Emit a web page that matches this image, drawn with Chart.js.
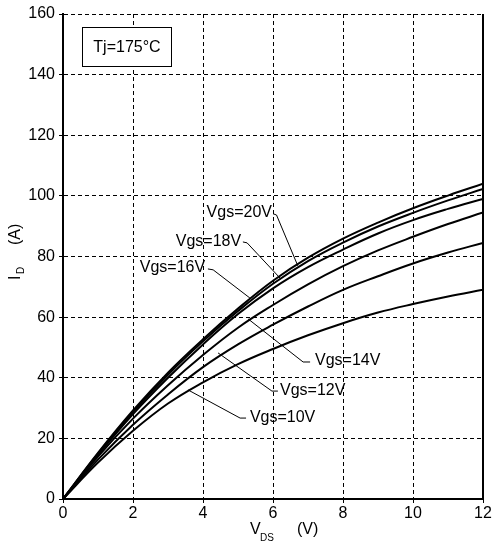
<!DOCTYPE html>
<html lang="en">
<head>
  <meta charset="UTF-8">
  <title>ID vs VDS at Tj=175°C</title>
  <style>
    * { margin:0; padding:0; }
    body { background:#fff; }
    canvas { display:block; }
  </style>
  <script src="https://cdn.jsdelivr.net/npm/chart.js"></script>
</head>
<body>
  <canvas id="ivChart" width="497" height="544"></canvas>

  <script>
    // V_DS (V)
    const vds = [0, 1, 2, 3, 4, 5, 6, 7, 8, 9, 10, 11, 12];
    // I_D (A) for each gate voltage
    const id20 = [0, 15.2, 29.2, 41.7, 52.7, 62.8, 72, 79.6, 85.9, 91.2, 95.9, 100.1, 104];
    const id18 = [0, 15, 28.7, 41, 52, 62, 71, 78.5, 84.6, 89.9, 94.4, 98.5, 102.3];
    const id16 = [0, 14.5, 28, 40, 51, 61, 69.5, 76.5, 82.3, 87.6, 92, 95.7, 99];
    const id14 = [0, 14, 26.5, 37.5, 47.5, 56.5, 64, 70.8, 76.8, 82, 86.5, 90.7, 94.5];
    const id12 = [0, 13, 24.5, 34.5, 43.5, 51, 57.5, 63.5, 69, 73.5, 77.7, 81.3, 84.5];
    const id10 = [0, 12, 22.5, 31.5, 38.5, 44.5, 49.5, 54, 58, 61.5, 64.3, 66.8, 69];
    const series = [id20, id18, id16, id14, id12, id10];
    const seriesNames = ['Vgs=20V', 'Vgs=18V', 'Vgs=16V', 'Vgs=14V', 'Vgs=12V', 'Vgs=10V'];

    const FONT = "'Liberation Sans', Arial, sans-serif";
    Chart.defaults.font.family = FONT;
    Chart.defaults.font.size = 16;
    Chart.defaults.color = '#000';

    // callouts: text anchor + leader line, in data units
    const callouts = [
      { text: 'Vgs=20V', at: [5.97, 94.4], align: 'right', leader: [[6.0, 94.1], [6.1, 93.7], [6.71, 76.9]] },
      { text: 'Vgs=18V', at: [5.09, 84.8], align: 'right', leader: [[5.14, 84.8], [5.26, 84.5], [6.2, 72.9]] },
      { text: 'Vgs=16V', at: [4.06, 76.2], align: 'right', leader: [[4.14, 75.9], [4.29, 75.6], [5.34, 66.3]] },
      { text: 'Vgs=14V', at: [7.2, 45.5], align: 'left', leader: [[7.06, 45.2], [6.86, 45.2], [5.29, 59.4]] },
      { text: 'Vgs=12V', at: [6.2, 35.6], align: 'left', leader: [[6.14, 35.6], [5.97, 35.6], [4.43, 48.2]] },
      { text: 'Vgs=10V', at: [5.34, 27], align: 'left', leader: [[5.23, 26.7], [5.06, 26.7], [3.57, 36.0]] }
    ];

    const annot = {
      id: 'annot',
      afterDraw(chart) {
        const { ctx, scales: { x, y }, chartArea: a } = chart;
        const px = v => x.getPixelForValue(v);
        const py = v => y.getPixelForValue(v);
        ctx.save();
        ctx.setLineDash([]);
        ctx.strokeStyle = '#000';
        ctx.fillStyle = '#000';

        // solid right frame
        ctx.lineWidth = 2;
        ctx.beginPath();
        ctx.moveTo(a.right, a.top);
        ctx.lineTo(a.right, a.bottom + 1);
        ctx.stroke();

        // callouts
        ctx.lineWidth = 1;
        ctx.font = '16px ' + FONT;
        ctx.textBaseline = 'middle';
        callouts.forEach(c => {
          ctx.beginPath();
          c.leader.forEach(([vx, vy], i) => {
            if (i) ctx.lineTo(px(vx), py(vy)); else ctx.moveTo(px(vx), py(vy));
          });
          ctx.stroke();
          ctx.textAlign = c.align;
          ctx.fillText(c.text, px(c.at[0]), py(c.at[1]));
        });

        // Tj box
        const bx = Math.round(px(0.54)) + 0.5, by = Math.round(py(155.8)) + 0.5;
        const bw = Math.round(px(3.09) - px(0.54)), bh = Math.round(py(142.9) - py(155.8));
        ctx.fillStyle = '#fff';
        ctx.fillRect(bx, by, bw, bh);
        ctx.strokeRect(bx, by, bw, bh);
        ctx.fillStyle = '#000';
        ctx.textAlign = 'center';
        ctx.fillText('Tj=175°C', bx + bw / 2, by + bh / 2 + 1);

        // axis titles
        ctx.textAlign = 'left';
        ctx.textBaseline = 'alphabetic';
        ctx.font = '16px ' + FONT;
        ctx.fillText('V', 250, 534);
        ctx.fillText('(V)', 297, 534);
        ctx.font = '10px ' + FONT;
        ctx.fillText('DS', 260, 541);

        ctx.translate(20, 251);
        ctx.rotate(-Math.PI / 2);
        ctx.font = '16px ' + FONT;
        ctx.fillText('I', -29, 0);
        ctx.fillText('(A)', 6, 0);
        ctx.font = '10px ' + FONT;
        ctx.fillText('D', -23, 4);
        ctx.restore();
      }
    };

    new Chart(document.getElementById('ivChart').getContext('2d'), {
      type: 'line',
      data: {
        datasets: series.map((s, i) => ({
          label: seriesNames[i],
          data: vds.map((v, k) => ({ x: v, y: s[k] })),
          borderColor: '#000',
          borderWidth: 2,
          pointRadius: 0,
          fill: false,
          tension: 0.4
        }))
      },
      options: {
        responsive: false,
        animation: false,
        layout: { padding: { top: 14, right: 14, left: 0, bottom: 0 } },
        plugins: { legend: { display: false }, tooltip: { enabled: false } },
        scales: {
          x: {
            type: 'linear', min: 0, max: 12,
            ticks: { stepSize: 2, padding: 1, maxRotation: 0, color: '#000' },
            grid: { color: '#000', lineWidth: 1, tickLength: 4 },
            border: { color: '#000', width: 2, dash: [4, 3] },
            afterFit: s => { s.height = 45; }
          },
          y: {
            type: 'linear', min: 0, max: 160,
            ticks: { stepSize: 20, padding: 4, color: '#000' },
            grid: { color: '#000', lineWidth: 1, tickLength: 4 },
            border: { color: '#000', width: 2, dash: [4, 3] },
            afterFit: s => { s.width = 63; }
          }
        }
      },
      plugins: [annot]
    });
  </script>
</body>
</html>
